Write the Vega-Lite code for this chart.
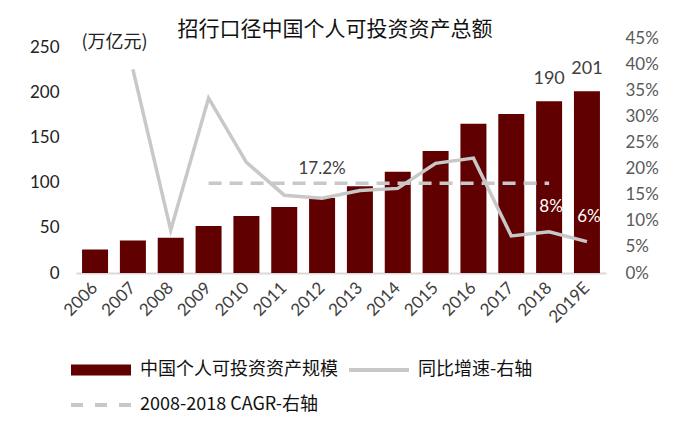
{
  "$schema": "https://vega.github.io/schema/vega-lite/v6.json",
  "width": 530,
  "height": 235,
  "autosize": "none",
  "padding": {"left": 76, "top": 38, "right": 94, "bottom": 158},
  "background": "white",
  "title": {
    "text": "招行口径中国个人可投资资产总额",
    "font": "Noto Sans CJK SC",
    "fontSize": 21,
    "fontWeight": "normal",
    "color": "#111111",
    "anchor": "middle",
    "dx": -6,
    "dy": 15
  },
  "data": {
    "values": [
      {"year": "2006", "value": 26, "growth": null, "cagr": null},
      {"year": "2007", "value": 36, "growth": 0.39, "cagr": null},
      {"year": "2008", "value": 39, "growth": 0.082, "cagr": null},
      {"year": "2009", "value": 52, "growth": 0.335, "cagr": 0.172},
      {"year": "2010", "value": 63, "growth": 0.212, "cagr": 0.172},
      {"year": "2011", "value": 73, "growth": 0.149, "cagr": 0.172},
      {"year": "2012", "value": 83, "growth": 0.143, "cagr": 0.172},
      {"year": "2013", "value": 96, "growth": 0.158, "cagr": 0.172},
      {"year": "2014", "value": 112, "growth": 0.162, "cagr": 0.172},
      {"year": "2015", "value": 135, "growth": 0.21, "cagr": 0.172},
      {"year": "2016", "value": 165, "growth": 0.22, "cagr": 0.172},
      {"year": "2017", "value": 176, "growth": 0.071, "cagr": 0.172},
      {"year": "2018", "value": 190, "growth": 0.079, "cagr": 0.172},
      {"year": "2019E", "value": 201, "growth": 0.06, "cagr": null}
    ]
  },
  "encoding": {
    "x": {
      "field": "year",
      "type": "ordinal",
      "title": null,
      "scale": {"paddingInner": 0.313, "paddingOuter": 0.16},
      "axis": {
        "labelAngle": -45,
        "labelAlign": "right",
        "labelBaseline": "middle",
        "labelPadding": 12,
        "labelFont": "Lato",
        "labelFontSize": 17,
        "labelColor": "#404040",
        "labelOverlap": false,
        "ticks": false,
        "domainColor": "#d9d9d9",
        "domainWidth": 2
      }
    }
  },
  "layer": [
    {
      "layer": [
        {
          "mark": {"type": "bar", "color": "#600000"},
          "encoding": {
            "y": {
              "field": "value",
              "type": "quantitative",
              "scale": {"domain": [0, 250]},
              "axis": {
                "orient": "left",
                "values": [0, 50, 100, 150, 200, 250],
                "grid": false,
                "domain": false,
                "ticks": false,
                "labelOverlap": false,
                "labelPadding": 17,
                "labelFont": "Lato",
                "labelFontSize": 17,
                "labelColor": "#222222",
                "title": "(万亿元)",
                "titleAngle": 0,
                "titleX": 38,
                "titleY": 4,
                "titleAlign": "center",
                "titleBaseline": "middle",
                "titleFont": "Noto Sans CJK SC",
                "titleFontSize": 18,
                "titleFontWeight": "normal",
                "titleColor": "#222222"
              }
            }
          }
        },
        {
          "transform": [{"filter": {"field": "year", "oneOf": ["2018", "2019E"]}}],
          "mark": {"type": "text", "font": "Lato", "fontSize": 18, "color": "#404040", "baseline": "middle", "dy": -22},
          "encoding": {
            "y": {"field": "value", "type": "quantitative"},
            "text": {"field": "value", "type": "quantitative"}
          }
        }
      ]
    },
    {
      "layer": [
        {
          "mark": {"type": "line", "color": "#c8c8c8", "strokeWidth": 3.5},
          "encoding": {
            "y": {
              "field": "growth",
              "type": "quantitative",
              "scale": {"domain": [0, 0.45], "nice": false},
              "axis": {
                "orient": "right",
                "values": [0, 0.05, 0.1, 0.15, 0.2, 0.25, 0.3, 0.35, 0.4, 0.45],
                "format": ".0%",
                "grid": false,
                "domain": false,
                "ticks": false,
                "labelOverlap": false,
                "labelPadding": 19,
                "labelFont": "Lato",
                "labelFontSize": 17,
                "labelColor": "#595959",
                "title": null
              }
            }
          }
        },
        {
          "mark": {"type": "line", "color": "#c8c8c8", "strokeWidth": 3.5, "strokeDash": [13, 8]},
          "encoding": {
            "y": {
              "field": "cagr",
              "type": "quantitative",
              "axis": {
                "orient": "right",
                "values": [0, 0.05, 0.1, 0.15, 0.2, 0.25, 0.3, 0.35, 0.4, 0.45],
                "format": ".0%",
                "grid": false,
                "domain": false,
                "ticks": false,
                "labelOverlap": false,
                "labelPadding": 19,
                "labelFont": "Lato",
                "labelFontSize": 17,
                "labelColor": "#595959",
                "title": null
              }
            }
          }
        },
        {
          "transform": [{"filter": {"field": "year", "equal": "2012"}}],
          "mark": {"type": "text", "font": "Lato", "fontSize": 17, "color": "#404040", "baseline": "middle", "dy": -14},
          "encoding": {
            "y": {
              "field": "cagr",
              "type": "quantitative",
              "axis": {
                "orient": "right",
                "values": [0, 0.05, 0.1, 0.15, 0.2, 0.25, 0.3, 0.35, 0.4, 0.45],
                "format": ".0%",
                "grid": false,
                "domain": false,
                "ticks": false,
                "labelOverlap": false,
                "labelPadding": 19,
                "labelFont": "Lato",
                "labelFontSize": 17,
                "labelColor": "#595959",
                "title": null
              }
            },
            "text": {"field": "cagr", "type": "quantitative", "format": ".1%"}
          }
        },
        {
          "transform": [{"filter": {"field": "year", "oneOf": ["2018", "2019E"]}}],
          "mark": {"type": "text", "font": "Lato", "fontSize": 17, "color": "white", "baseline": "middle", "dx": 2, "dy": -25},
          "encoding": {
            "y": {
              "field": "growth",
              "type": "quantitative",
              "axis": {
                "orient": "right",
                "values": [0, 0.05, 0.1, 0.15, 0.2, 0.25, 0.3, 0.35, 0.4, 0.45],
                "format": ".0%",
                "grid": false,
                "domain": false,
                "ticks": false,
                "labelOverlap": false,
                "labelPadding": 19,
                "labelFont": "Lato",
                "labelFontSize": 17,
                "labelColor": "#595959",
                "title": null
              }
            },
            "text": {"field": "growth", "type": "quantitative", "format": ".0%"}
          }
        },
        {
          "data": {
            "values": [
              {"series": "中国个人可投资资产规模"},
              {"series": "同比增速-右轴"},
              {"series": "2008-2018 CAGR-右轴"}
            ]
          },
          "mark": {"type": "point", "filled": true, "opacity": 0},
          "encoding": {
            "x": {"value": 0},
            "y": {"value": 0},
            "color": {
              "field": "series",
              "type": "nominal",
              "sort": null,
              "scale": {
                "domain": ["中国个人可投资资产规模", "同比增速-右轴", "2008-2018 CAGR-右轴"],
                "range": ["#600000", "#c8c8c8", "#c8c8c8"]
              },
              "legend": {
                "title": null,
                "orient": "none",
                "legendX": 10,
                "legendY": 317,
                "direction": "horizontal",
                "columns": 2,
                "padding": 0,
                "columnPadding": 11,
                "rowPadding": 11,
                "symbolSize": 900,
                "symbolOpacity": 1,
                "symbolStrokeWidth": 0,
                "labelOffset": 24,
                "labelFont": "Noto Sans CJK SC",
                "labelFontSize": 18,
                "labelColor": "#111111",
                "labelLimit": 0
              }
            },
            "shape": {
              "field": "series",
              "type": "nominal",
              "sort": null,
              "scale": {
                "domain": ["中国个人可投资资产规模", "同比增速-右轴", "2008-2018 CAGR-右轴"],
                "range": [
                  "M-2,-0.37H2V0.37H-2Z",
                  "M-2,-0.13H2V0.13H-2Z",
                  "M-2,-0.13H-1.2V0.13H-2ZM-0.4,-0.13H0.4V0.13H-0.4ZM1.2,-0.13H2V0.13H1.2Z"
                ]
              },
              "legend": {
                "title": null,
                "orient": "none",
                "legendX": 10,
                "legendY": 317,
                "direction": "horizontal",
                "columns": 2,
                "padding": 0,
                "columnPadding": 11,
                "rowPadding": 11,
                "symbolSize": 900,
                "symbolOpacity": 1,
                "symbolStrokeWidth": 0,
                "labelOffset": 24,
                "labelFont": "Noto Sans CJK SC",
                "labelFontSize": 18,
                "labelColor": "#111111",
                "labelLimit": 0
              }
            }
          }
        }
      ]
    }
  ],
  "resolve": {"scale": {"y": "independent"}},
  "config": {"view": {"stroke": null}}
}
